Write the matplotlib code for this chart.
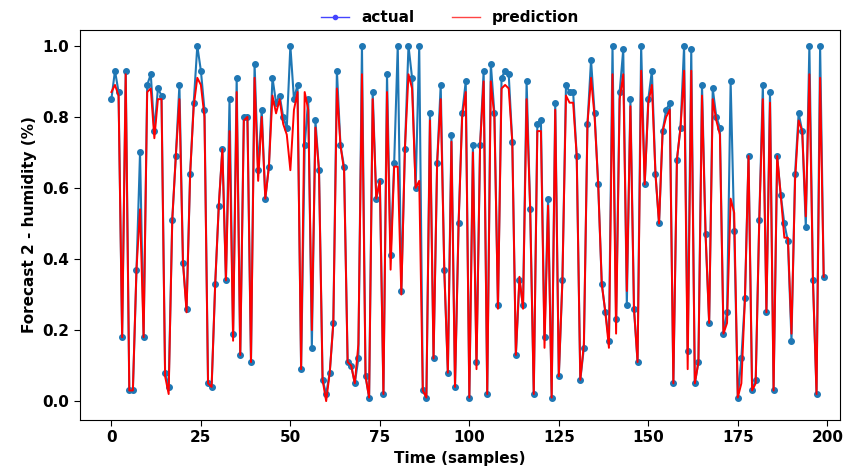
import matplotlib
matplotlib.use('Agg')
import matplotlib.pyplot as plt
from matplotlib.lines import Line2D
import numpy as np

# humidity forecast, actual vs prediction
actual = [0.85, 0.93, 0.87, 0.18, 0.93, 0.03, 0.03, 0.37, 0.70, 0.18,
          0.89, 0.92, 0.76, 0.88, 0.86, 0.08, 0.04, 0.51, 0.69, 0.89,
          0.39, 0.26, 0.64, 0.84, 1.00, 0.93, 0.82, 0.05, 0.04, 0.33,
          0.55, 0.71, 0.34, 0.85, 0.19, 0.91, 0.13, 0.80, 0.80, 0.11,
          0.95, 0.65, 0.82, 0.57, 0.66, 0.91, 0.84, 0.86, 0.80, 0.77,
          1.00, 0.85, 0.89, 0.09, 0.72, 0.85, 0.15, 0.79, 0.65, 0.06,
          0.02, 0.08, 0.22, 0.93, 0.72, 0.66, 0.11, 0.10, 0.05, 0.12,
          1.00, 0.07, 0.01, 0.87, 0.57, 0.62, 0.02, 0.92, 0.41, 0.67,
          1.00, 0.31, 0.71, 1.00, 0.91, 0.60, 1.00, 0.03, 0.01, 0.81,
          0.12, 0.67, 0.89, 0.37, 0.08, 0.75, 0.04, 0.50, 0.81, 0.90,
          0.01, 0.72, 0.11, 0.72, 0.93, 0.02, 0.95, 0.81, 0.27, 0.91,
          0.93, 0.92, 0.73, 0.13, 0.34, 0.27, 0.90, 0.54, 0.02, 0.78,
          0.79, 0.18, 0.57, 0.01, 0.84, 0.07, 0.34, 0.89, 0.87, 0.87,
          0.69, 0.06, 0.15, 0.78, 0.96, 0.81, 0.61, 0.33, 0.25, 0.17,
          1.00, 0.23, 0.87, 0.99, 0.27, 0.85, 0.26, 0.11, 1.00, 0.61,
          0.85, 0.93, 0.64, 0.50, 0.76, 0.82, 0.84, 0.05, 0.68, 0.77,
          1.00, 0.14, 0.99, 0.05, 0.11, 0.89, 0.47, 0.22, 0.88, 0.80,
          0.77, 0.19, 0.25, 0.90, 0.48, 0.01, 0.12, 0.29, 0.69, 0.03,
          0.06, 0.51, 0.89, 0.25, 0.87, 0.03, 0.69, 0.58, 0.50, 0.45,
          0.17, 0.64, 0.81, 0.76, 0.49, 1.00, 0.34, 0.02, 1.00, 0.35]

prediction = [0.87, 0.89, 0.86, 0.18, 0.92, 0.03, 0.03, 0.37, 0.54, 0.18,
              0.87, 0.88, 0.74, 0.85, 0.85, 0.07, 0.02, 0.51, 0.69, 0.85,
              0.39, 0.25, 0.64, 0.83, 0.91, 0.89, 0.80, 0.05, 0.04, 0.33,
              0.55, 0.71, 0.34, 0.76, 0.17, 0.87, 0.13, 0.79, 0.80, 0.11,
              0.91, 0.62, 0.80, 0.57, 0.66, 0.86, 0.81, 0.85, 0.78, 0.75,
              0.65, 0.82, 0.87, 0.09, 0.87, 0.82, 0.20, 0.77, 0.65, 0.06,
              0.00, 0.08, 0.22, 0.88, 0.72, 0.65, 0.11, 0.10, 0.05, 0.16,
              0.92, 0.07, 0.01, 0.85, 0.57, 0.62, 0.02, 0.87, 0.37, 0.66,
              0.66, 0.30, 0.71, 0.92, 0.88, 0.60, 0.62, 0.03, 0.01, 0.79,
              0.12, 0.67, 0.85, 0.37, 0.08, 0.73, 0.04, 0.50, 0.80, 0.87,
              0.01, 0.70, 0.09, 0.72, 0.90, 0.02, 0.90, 0.80, 0.26, 0.88,
              0.89, 0.88, 0.73, 0.13, 0.35, 0.26, 0.85, 0.54, 0.02, 0.76,
              0.76, 0.15, 0.55, 0.01, 0.82, 0.07, 0.34, 0.86, 0.84, 0.84,
              0.69, 0.06, 0.16, 0.78, 0.91, 0.80, 0.61, 0.33, 0.25, 0.15,
              0.92, 0.19, 0.85, 0.92, 0.31, 0.83, 0.26, 0.11, 0.93, 0.61,
              0.84, 0.89, 0.64, 0.50, 0.76, 0.80, 0.82, 0.05, 0.68, 0.77,
              0.93, 0.09, 0.93, 0.05, 0.11, 0.86, 0.47, 0.22, 0.85, 0.79,
              0.75, 0.19, 0.22, 0.57, 0.53, 0.01, 0.05, 0.29, 0.69, 0.03,
              0.05, 0.51, 0.85, 0.25, 0.84, 0.03, 0.69, 0.58, 0.46, 0.46,
              0.19, 0.62, 0.79, 0.76, 0.52, 0.92, 0.34, 0.02, 0.91, 0.35]

samples = np.arange(len(actual))
x_ticks = [0, 25, 50, 75, 100, 125, 150, 175, 200]
y_ticks = [0.0, 0.2, 0.4, 0.6, 0.8, 1.0]

fig = plt.figure(figsize=(8.5, 4.74), dpi=100)
axe = fig.add_axes([0.094, 0.114, 0.894, 0.823])

axe.plot(samples, actual, color='#1f77b4', linestyle='-', linewidth=1.5,
         marker='o', markersize=4)
axe.plot(samples, prediction, color='#ff0000', linestyle='-', linewidth=1.4)

axe.set_xlim(-8.8, 203.5)
axe.set_ylim(-0.053, 1.045)
axe.set_xticks(x_ticks)
axe.set_yticks(y_ticks)
axe.set_yticklabels(['%.1f' % v for v in y_ticks])
for lab in axe.get_xticklabels() + axe.get_yticklabels():
    lab.set_fontweight('bold')
    lab.set_fontsize(11)
axe.tick_params(length=4)

axe.set_xlabel('Time (samples)', fontsize=11, fontweight='bold', labelpad=4)
axe.set_ylabel('Forecast 2 - humidity (%)', fontsize=11, fontweight='bold')

# legend above the axes
handles = [Line2D([], [], color='#4444ff', marker='o', markersize=3, linewidth=1),
           Line2D([], [], color='#ff4444', linewidth=1)]
fig.legend(handles, ['actual', 'prediction'], loc='upper center',
           bbox_to_anchor=(0.53, 1.007), ncol=2, frameon=False,
           prop={'weight': 'bold', 'size': 11}, handlelength=1.8,
           columnspacing=2.5)

fig.savefig('out.png', dpi=100)
